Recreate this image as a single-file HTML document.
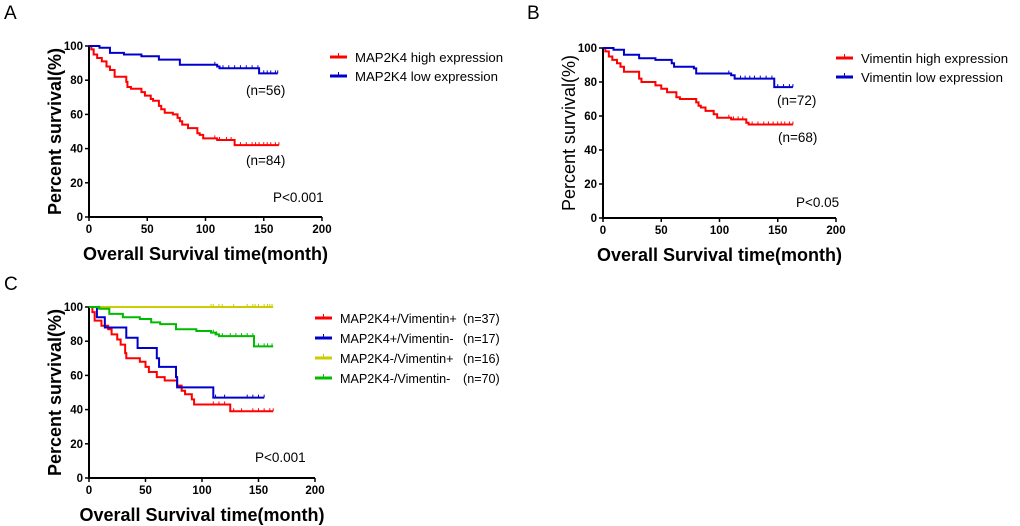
<!DOCTYPE html>
<html><head><meta charset="utf-8"><style>
body{margin:0;background:#fff;}
svg{display:block;font-family:"Liberation Sans",Arial,sans-serif;}
</style></head><body>
<svg id="c" width="1020" height="526" viewBox="0 0 1020 526"></svg>
<script>
const xTicks=[0,50,100,150,200];
const yTicks=[0,20,40,60,80,100];
const aHigh=[[0,100],[2,98],[4,95],[7,93],[11,91],[15,88],[18,86],[22,82],[32,79],[33,76],[36,75],[45,73],[48,71],[53,69],[55,68],[60,65],[62,63],[65,61],[72,60],[76,58],[78,56],[80,54],[85,52],[93,49],[95,48],[98,46],[110,45],[125,42],[163,42]];
const aHighCens=[108,112,118,122,130,135,140,143,146,150,153,156,160,163];
const aLow=[[0,100],[9,99],[18,96],[30,95],[45,94],[60,92],[78,89],[110,88],[112,87],[146,84],[162,84]];
const aLowCens=[108,115,120,125,130,135,140,145,150,153,156,160,162];
const bHigh=[[0,100],[2,98],[5,95],[8,93],[12,91],[15,89],[18,86],[31,82],[33,80],[45,78],[50,76],[55,74],[63,71],[66,70],[80,68],[82,66],[84,65],[88,63],[95,61],[98,59],[110,58],[123,56],[125,55],[163,55]];
const bHighCens=[108,112,116,120,128,133,138,142,146,150,153,156,160,163];
const bLow=[[0,100],[9,99],[18,96],[31,94],[45,93],[59,91],[61,89],[78,88],[80,85],[110,84],[113,82],[147,77],[163,77]];
const bLowCens=[108,118,122,126,130,135,140,145,150,155,160,163];
const cPP=[[0,100],[3,97],[5,92],[11,89],[17,87],[20,84],[25,81],[28,78],[32,73],[33,70],[45,68],[50,65],[53,62],[60,59],[67,57],[78,54],[82,51],[85,49],[91,46],[93,43],[125,39],[163,39]];
const cPPCens=[110,115,120,128,135,145,150,155,160,163];
const cPM=[[0,100],[7,94],[14,88],[33,82],[43,76],[60,70],[62,65],[77,59],[78,53],[110,47],[155,47]];
const cPMCens=[112,120,140,145,150,155];
const cMP=[[0,100],[163,100]];
const cMPCens=[108,110,115,118,128,140,145,147,150,155,158,160,162];
const cMM=[[0,100],[9,99],[18,96],[30,94],[45,93],[55,91],[63,90],[77,87],[95,86],[108,85],[112,84],[115,83],[146,77],[163,77]];
const cMMCens=[9,110,113,118,125,130,135,140,145,150,155,158,162];

const NS="http://www.w3.org/2000/svg";
const svg=document.getElementById('c');
function mk(tag,attrs,parent,text){const e=document.createElementNS(NS,tag);for(const k in attrs)e.setAttribute(k,attrs[k]);if(text!==undefined)e.textContent=text;(parent||svg).appendChild(e);return e;}
function panel(p){
 const g=mk('g',{});
 
 
 const sx=v=>p.x0+(p.x1-p.x0)*v/200, sy=v=>p.y0-(p.y0-p.y1)*v/100;
 const t=mk('text',{x:p.lx,y:p.ly,'font-size':19},g,p.letter);
 
 const ax=mk('path',{d:`M${p.x0} ${sy(100)}V${p.y0}H${sx(200)}`,stroke:'#000','stroke-width':2,fill:'none'},g);
 
 xTicks.forEach(v=>{mk('line',{x1:sx(v),x2:sx(v),y1:p.y0,y2:p.y0+4,stroke:'#000','stroke-width':1.5},g);
  const l=mk('text',{x:sx(v),y:p.y0+16,'font-size':11.5,'font-weight':'bold','text-anchor':'middle'},g,v);
  });
 yTicks.forEach(v=>{mk('line',{x1:p.x0-4,x2:p.x0,y1:sy(v),y2:sy(v),stroke:'#000','stroke-width':1.5},g);
  const l=mk('text',{x:p.x0-6,y:sy(v)+4,'font-size':11.5,'font-weight':'bold','text-anchor':'end'},g,v);
  });
 const xt=mk('text',{x:(p.x0+sx(200))/2,y:p.y0+43,'font-size':18,'font-weight':'bold','text-anchor':'middle'},g,'Overall Survival time(month)');
 
 const yc=(p.y0+sy(100))/2;
 const yx=p.x0-28;
 const yt=mk('text',{x:yx,y:yc,'font-size':18,'font-weight':p.ybold?'bold':'normal','text-anchor':'middle',transform:`rotate(-90 ${yx} ${yc})`},g,'Percent survival(%)');
 
 p.series.forEach((s,i)=>{
  let d=`M${sx(s.pts[0][0])} ${sy(s.pts[0][1])}`;
  for(let k=1;k<s.pts.length;k++){d+=`H${sx(s.pts[k][0])}V${sy(s.pts[k][1])}`;}
  const ln=mk('path',{d,stroke:s.color,'stroke-width':2,fill:'none'},g);
  
  s.cens.forEach(c=>{let y=s.pts[0][1];s.pts.forEach(q=>{if(q[0]<=c)y=q[1];});
   const tk=mk('line',{x1:sx(c),x2:sx(c),y1:sy(y)-3,y2:sy(y),stroke:s.color,'stroke-width':1},g);
   });
  const ly=p.legY+i*p.legDy;
  const lg=mk('g',{},g);
  mk('line',{x1:p.legX,x2:p.legX+17,y1:ly,y2:ly,stroke:s.color,'stroke-width':3},lg);
  mk('line',{x1:p.legX+8.5,x2:p.legX+8.5,y1:ly-4,y2:ly,stroke:s.color,'stroke-width':1},lg);
  mk('text',{x:p.legX+25,y:ly+5,'font-size':p.legFs},lg,s.label);
  if(s.n){mk('text',{x:p.nX,y:ly+5,'font-size':p.legFs},lg,s.n);}
 });
 p.notes.forEach(n=>{const e=mk('text',{x:n[0],y:n[1],'font-size':13.5},g,n[2]);});
}
panel({name:'panel-a',letter:'A',lx:4,ly:19,x0:89,x1:322,y0:217,y1:46,ybold:true,legX:330,legY:57,legDy:19,legFs:13.2,
 series:[{id:'map2k4-high',pts:aHigh,cens:aHighCens,color:'#ff0000',label:'MAP2K4 high expression'},
 {id:'map2k4-low',pts:aLow,cens:aLowCens,color:'#0000cc',label:'MAP2K4 low expression'}],
 notes:[[246,95,'(n=56)','n-low-label'],[246,165,'(n=84)','n-high-label'],[273,202,'P<0.001','p-value']]});
panel({name:'panel-b',letter:'B',lx:527,ly:19,x0:603,x1:836,y0:218,y1:48,ybold:false,legX:836,legY:58,legDy:19,legFs:13.2,
 series:[{id:'vimentin-high',pts:bHigh,cens:bHighCens,color:'#ff0000',label:'Vimentin high expression'},
 {id:'vimentin-low',pts:bLow,cens:bLowCens,color:'#0000cc',label:'Vimentin low expression'}],
 notes:[[777,105,'(n=72)','n-low-label'],[778,142,'(n=68)','n-high-label'],[796,207,'P<0.05','p-value']]});
panel({name:'panel-c',letter:'C',lx:4,ly:290,x0:89,x1:315,y0:478,y1:307,ybold:true,legX:315,legY:318,legDy:20,nX:463,legFs:12.6,
 series:[{id:'pos-pos',pts:cPP,cens:cPPCens,color:'#ff0000',label:'MAP2K4+/Vimentin+',n:'(n=37)'},
 {id:'pos-neg',pts:cPM,cens:cPMCens,color:'#0000cc',label:'MAP2K4+/Vimentin-',n:'(n=17)'},
 {id:'neg-pos',pts:cMP,cens:cMPCens,color:'#cccc00',label:'MAP2K4-/Vimentin+',n:'(n=16)'},
 {id:'neg-neg',pts:cMM,cens:cMMCens,color:'#00bb00',label:'MAP2K4-/Vimentin-',n:'(n=70)'}],
 notes:[[255,462,'P<0.001','p-value']]});
</script>
</body></html>
